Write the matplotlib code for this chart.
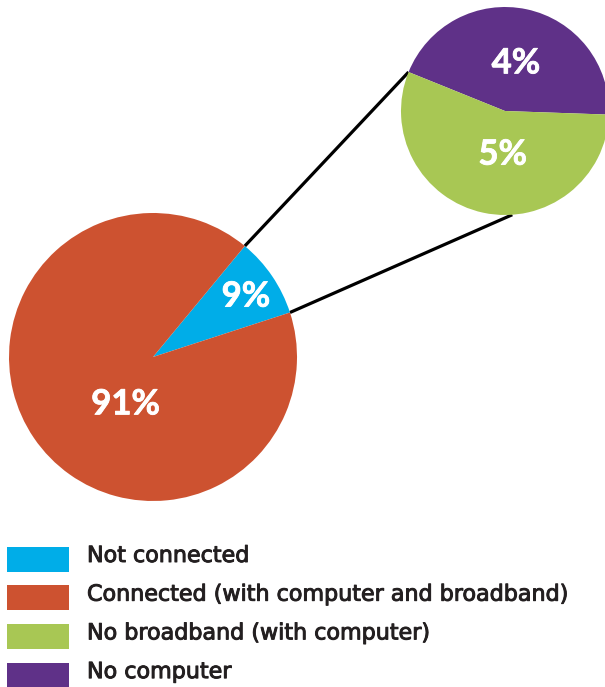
import numpy as np
import matplotlib
matplotlib.use("Agg")
import matplotlib.pyplot as plt
import matplotlib.patheffects as pe
from matplotlib.patches import Rectangle

# ---- data ----
main_labels = ["Not connected", "Connected (with computer and broadband)"]
main_values = [9, 91]
sub_labels = ["No computer", "No broadband (with computer)"]
sub_values = [4, 5]
legend_labels = ["Not connected", "Connected (with computer and broadband)",
                 "No broadband (with computer)", "No computer"]

C_BLUE = "#00ADE8"
C_ORANGE = "#CD5230"
C_GREEN = "#A8C754"
C_PURPLE = "#5F3188"
legend_colors = [C_BLUE, C_ORANGE, C_GREEN, C_PURPLE]

W, H = 605, 687
fig = plt.figure(figsize=(W / 100, H / 100), dpi=100)
ax = fig.add_axes([0, 0, 1, 1])

# layout (pixel coords, y up)
main_c = (153, H - 357)
main_r = 144
sub_c = (505, H - 111)
sub_r = 104

main_w, _ = ax.pie(main_values, colors=[C_BLUE, C_ORANGE], startangle=18,
                   center=main_c, radius=main_r, counterclock=True,
                   wedgeprops=dict(linewidth=0))
sub_w, _ = ax.pie(sub_values, colors=[C_PURPLE, C_GREEN], startangle=-2,
                  center=sub_c, radius=sub_r, counterclock=True,
                  wedgeprops=dict(linewidth=0))

# connector lines from the small wedge edges to the exploded pie
blue = main_w[0]
def pt(c, r, ang):
    a = np.deg2rad(ang)
    return c[0] + r * np.cos(a), c[1] + r * np.sin(a)

p1 = pt(main_c, main_r, blue.theta2)
p2 = pt(main_c, main_r, blue.theta1)
q1 = pt(sub_c, sub_r, sub_w[0].theta2)
q2 = pt(sub_c, sub_r, -86)
ax.plot([p1[0], q1[0]], [p1[1], q1[1]], color="black", lw=2.3, zorder=0,
        solid_capstyle="butt")
ax.plot([p2[0], q2[0]], [p2[1], q2[1]], color="black", lw=2.3, zorder=0,
        solid_capstyle="butt")

# percentage labels
lab_font = dict(color="white", fontsize=25, fontweight="bold",
                family=["Lato", "DejaVu Sans"], ha="center", va="center",
                path_effects=[pe.withStroke(linewidth=0.6, foreground="white")])
def place(c, r, ang, frac, txt):
    x, y = pt(c, r * frac, ang)
    ax.text(x, y, txt, **lab_font)

place(main_c, main_r, 33, 0.77, f"{main_values[0]}%")
place(main_c, main_r, 240, 0.38, f"{main_values[1]}%")
place(sub_c, sub_r, 77, 0.47, f"{sub_values[0]}%")
place(sub_c, sub_r, 267, 0.42, f"{sub_values[1]}%")

# legend
box_x, box_w, box_h = 7, 62, 25
row0 = H - 559
step = 38.7
for i, (lab, col) in enumerate(zip(legend_labels, legend_colors)):
    yc = row0 - i * step
    ax.add_patch(Rectangle((box_x, yc - box_h / 2), box_w, box_h,
                           facecolor=col, edgecolor="none"))
    ax.text(87, yc - 3, lab, fontsize=16, color="#231F20", ha="left",
            va="baseline", family="DejaVu Sans",
            path_effects=[pe.withStroke(linewidth=0.7, foreground="#231F20")])

ax.set_xlim(0, W)
ax.set_ylim(0, H)
ax.set_aspect("auto")
ax.axis("off")
fig.savefig("out.png", dpi=100)
